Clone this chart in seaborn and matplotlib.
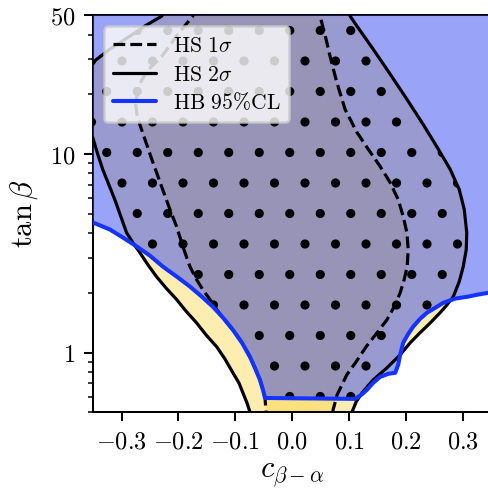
import numpy as np
import matplotlib
matplotlib.use("Agg")
import matplotlib.pyplot as plt
import seaborn as sns
import pandas as pd
from matplotlib.patches import Polygon
from matplotlib.ticker import FixedLocator, FixedFormatter, LogLocator, NullFormatter

# ---------------- data ----------------
# HS 2 sigma contour (closed path, coordinates: c_{beta-alpha}, tan beta)
hs2_x = [-0.37, -0.3505, -0.3206, -0.2854, -0.2590, -0.2291, -0.222,
         0.103, 0.1017, 0.1211, 0.1422, 0.1721, 0.2015, 0.2302, 0.2566, 0.2777,
         0.2935, 0.3023, 0.3067, 0.3058, 0.3005, 0.2935, 0.2830, 0.2706, 0.2601,
         0.2425, 0.2249, 0.2073, 0.1897, 0.1663, 0.1422, 0.1228, 0.1123, 0.1052,
         0.099, -0.071, -0.0743, -0.0795, -0.0866, -0.0937, -0.1042, -0.1183,
         -0.1329, -0.1517, -0.1680, -0.1869, -0.2032, -0.2221, -0.2384, -0.2537,
         -0.2678, -0.2801, -0.2912, -0.3012, -0.3118, -0.3224, -0.3330, -0.3417,
         -0.3505, -0.37]
hs2_y = [26.3, 29.0, 33.8, 39.3, 44.2, 49.6, 56.0,
         56.0, 49.6, 41.2, 33.8, 25.3, 18.9, 14.1, 10.6, 8.37,
         6.63, 5.26, 4.02, 3.30, 2.71, 2.28, 1.91, 1.72, 1.59,
         1.41, 1.26, 1.12, 0.974, 0.836, 0.728, 0.626, 0.564, 0.502,
         0.45, 0.45, 0.502, 0.557, 0.626, 0.703, 0.790, 0.929,
         1.07, 1.23, 1.41, 1.62, 1.85, 2.12, 2.41, 2.77,
         3.19, 3.58, 4.02, 4.85, 5.90, 7.03, 8.37, 9.97,
         12.1, 15.0]

# HS 1 sigma contour (closed path)
hs1_x = [-0.172, -0.1746, -0.2009, -0.2291, -0.2555, -0.2713, -0.2749, -0.2731,
         -0.2678, -0.2590, -0.2467, -0.2296, -0.2168, -0.2032, -0.1922, -0.1798,
         -0.1680, -0.1570, -0.1446, -0.1323, -0.1218, -0.1042, -0.0883, -0.0743,
         -0.0655, -0.0567, -0.0514, -0.0478, -0.0461, -0.046,
         0.069, 0.0718, 0.0788, 0.0959, 0.1123, 0.1299, 0.1492, 0.1663, 0.1791,
         0.1897, 0.1967, 0.2020, 0.2038, 0.2015, 0.1950, 0.1862, 0.1721, 0.1545,
         0.1334, 0.1135, 0.0929, 0.0783, 0.0665, 0.0595, 0.0489, 0.047]
hs1_y = [56.0, 49.6, 40.2, 31.1, 26.2, 21.7, 17.8, 15.9,
         14.1, 11.9, 9.40, 6.87, 5.44, 4.31, 3.42, 2.71,
         2.33, 2.07, 1.85, 1.64, 1.50, 1.30, 1.12, 0.951,
         0.836, 0.728, 0.648, 0.590, 0.502, 0.45,
         0.45, 0.514, 0.611, 0.772, 0.898, 1.07, 1.26, 1.46, 1.70,
         2.00, 2.33, 2.71, 3.30, 4.02, 4.85, 5.90, 7.19, 8.67,
         10.6, 12.9, 16.8, 23.0, 31.1, 37.9, 49.6, 56.0]

# HiggsBounds 95% CL boundary
hb_x = [-0.35, -0.3206, -0.2977, -0.2736, -0.2502, -0.2273, -0.2027, -0.1798,
        -0.1587, -0.1394, -0.1218, -0.1042, -0.0883, -0.0743, -0.0655, -0.0567,
        -0.0514, -0.0478, 0.1105, 0.1211, 0.1311, 0.1422, 0.1545, 0.1686,
        0.1809, 0.1862, 0.1897, 0.1950, 0.2038, 0.2126, 0.2249, 0.2372,
        0.2513, 0.2654, 0.2865, 0.3076, 0.3269, 0.3445, 0.35]
hb_y = [4.52, 4.17, 3.80, 3.43, 3.08, 2.71, 2.41, 2.15,
        1.91, 1.70, 1.50, 1.30, 1.12, 0.951, 0.836, 0.728,
        0.648, 0.590, 0.584, 0.611, 0.648, 0.703, 0.754, 0.781,
        0.790, 0.867, 0.974, 1.12, 1.24, 1.35, 1.48, 1.59,
        1.68, 1.78, 1.87, 1.91, 1.96, 2.00, 2.01]

x_ticks = [-0.3, -0.2, -0.1, 0.0, 0.1, 0.2, 0.3]
x_tick_labels = [r"$-0.3$", r"$-0.2$", r"$-0.1$", r"$0.0$", r"$0.1$", r"$0.2$", r"$0.3$"]
y_ticks = [1, 10, 50]
y_tick_labels = [r"$1$", r"$10$", r"$50$"]
x_lim = (-0.35, 0.35)
y_lim = (0.5, 50)

labels = [r"$\mathrm{HS}\ 1\sigma$", r"$\mathrm{HS}\ 2\sigma$", r"$\mathrm{HB}\ 95\%\mathrm{CL}$"]

# ---------------- style ----------------
sns.set_theme(style="ticks")
plt.rcParams.update({
    "font.family": ["DejaVu Serif"],
    "mathtext.fontset": "cm",
    "axes.edgecolor": "black",
    "text.color": "black",
    "axes.labelcolor": "black",
    "xtick.color": "black",
    "ytick.color": "black",
    "xtick.major.size": 3.5,
    "ytick.major.size": 3.5,
    "xtick.minor.size": 2.0,
    "ytick.minor.size": 2.0,
    "xtick.major.width": 0.8,
    "ytick.major.width": 0.8,
    "xtick.minor.width": 0.6,
    "ytick.minor.width": 0.6,
    "axes.linewidth": 0.8,
    "hatch.linewidth": 1.2,
    "legend.edgecolor": "0.8",
})

DPI = 183
fig = plt.figure(figsize=(488.3 / DPI, 490.3 / DPI), dpi=DPI)
ax = fig.add_axes([93 / 488, (490 - 412.3) / 490, (491.1 - 93) / 488, (412.3 - 15.7) / 490])

yellow_light = "#fdedb0"
yellow_dark = "#fde17f"
blue_fill = (53 / 255, 73 / 255, 241 / 255)
blue_line = "#1533ff"

hs2_xy = np.column_stack([hs2_x, hs2_y])
hs1_xy = np.column_stack([hs1_x, hs1_y])
hb_region = np.column_stack([hb_x + [x_lim[1], x_lim[0]], hb_y + [y_lim[1], y_lim[1]]])

ax.add_patch(Polygon(hs2_xy, closed=True, facecolor=yellow_light, edgecolor="none", zorder=1))
ax.add_patch(Polygon(hs1_xy, closed=True, facecolor=yellow_dark, edgecolor="none", zorder=2))
blue_patch = Polygon(hb_region, closed=True, facecolor=blue_fill, alpha=0.5,
                     edgecolor="none", zorder=3)
ax.add_patch(blue_patch)

dots = Polygon(hs2_xy, closed=True, facecolor="none", edgecolor="black", linewidth=0,
               hatch=".", zorder=4)
ax.add_patch(dots)
dots.set_clip_path(blue_patch)

# contour lines via seaborn
df1 = pd.DataFrame({"x": hs1_x + [hs1_x[0]], "y": hs1_y + [hs1_y[0]]})
df2 = pd.DataFrame({"x": hs2_x + [hs2_x[0]], "y": hs2_y + [hs2_y[0]]})
dfb = pd.DataFrame({"x": hb_x, "y": hb_y})
sns.lineplot(data=df1, x="x", y="y", sort=False, estimator=None, color="black",
             linewidth=1.25, linestyle="--", ax=ax, zorder=5, label=labels[0])
sns.lineplot(data=df2, x="x", y="y", sort=False, estimator=None, color="black",
             linewidth=1.25, ax=ax, zorder=5, label=labels[1])
sns.lineplot(data=dfb, x="x", y="y", sort=False, estimator=None, color=blue_line,
             linewidth=1.6, ax=ax, zorder=6, label=labels[2])

ax.set_yscale("log")
ax.set_xlim(*x_lim)
ax.set_ylim(*y_lim)
ax.xaxis.set_major_locator(FixedLocator(x_ticks))
ax.xaxis.set_major_formatter(FixedFormatter(x_tick_labels))
ax.yaxis.set_major_locator(FixedLocator(y_ticks))
ax.yaxis.set_major_formatter(FixedFormatter(y_tick_labels))
ax.yaxis.set_minor_locator(LogLocator(base=10, subs=np.arange(2, 10), numticks=20))
ax.yaxis.set_minor_formatter(NullFormatter())
ax.tick_params(axis="both", which="major", labelsize=9.6)
ax.set_xlabel(r"$c_{\beta-\alpha}$", fontsize=12, labelpad=2)
ax.set_ylabel(r"$\tan\beta$", fontsize=12)

ax.legend(loc="upper left", fontsize=8.5, framealpha=0.8, labelspacing=0.3)

fig.savefig("out.png", dpi=DPI)
